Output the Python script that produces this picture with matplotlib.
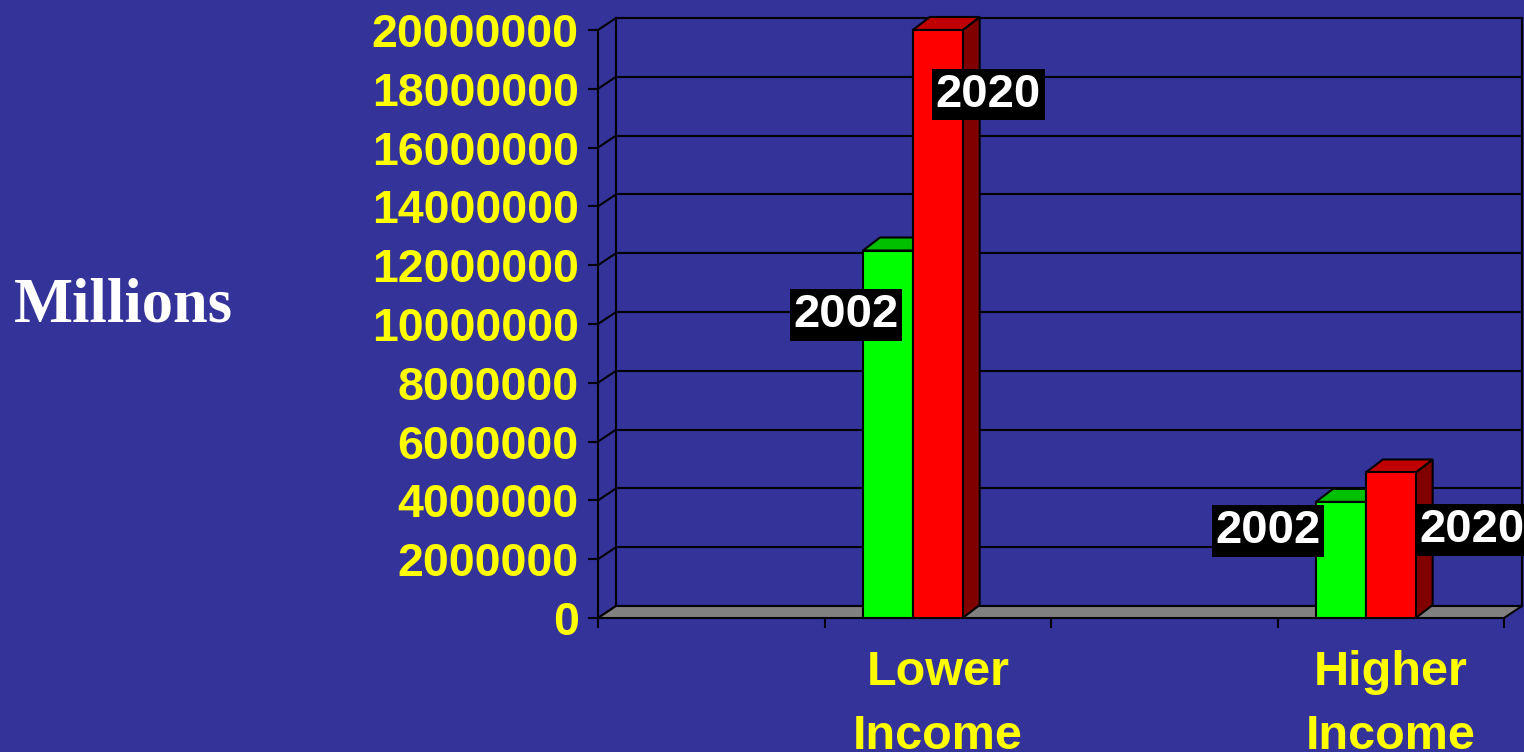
import matplotlib.pyplot as plt
from matplotlib.patches import Polygon

# data
categories = ['Lower\nIncome', 'Higher\nIncome']
years = ['2002', '2020']
values_2002 = [12500000, 3950000]
values_2020 = [20000000, 4950000]
y_ticks = [0, 2000000, 4000000, 6000000, 8000000, 10000000,
           12000000, 14000000, 16000000, 18000000, 20000000]

# layout: four category slots, the data sits in slots 1 and 3
slots = [1, 3]
label_xy = [[(0.595, 10.3e6), (1.224, 17.8e6)],
            [(2.458, 2.96e6), (3.359, 2.99e6)]]

bg = '#333399'
front_col = ['#00ff00', '#ff0000']
top_col = ['#00c000', '#c00000']
side_col = ['#008000', '#800000']

W, H = 1524, 752
fig = plt.figure(figsize=(W / 100, H / 100), dpi=100, facecolor=bg)
ax = fig.add_axes([598 / W, 134 / H, 906 / W, 588 / H])
ax.set_facecolor('none')
ax.set_xlim(-0.5, 3.5)
ax.set_ylim(0, 20000000)

# depth of the fake 3d box, in data units
px_x = 906 / 4.0          # pixels per slot
px_y = 588 / 20000000.0   # pixels per unit value
wdx, wdy = 18 / px_x, 12 / px_y
bdx, bdy = 17 / px_x, 13 / px_y

lw = 1.5
# back wall gridlines and the lines on the left wall
for t in y_ticks:
    ax.plot([-0.5 + wdx, 3.5 + wdx], [t + wdy, t + wdy], color='black',
            lw=lw, clip_on=False, zorder=1)
    ax.plot([-0.5, -0.5 + wdx], [t, t + wdy], color='black', lw=lw,
            clip_on=False, zorder=1)
for xe in [-0.5 + wdx, 3.5 + wdx]:
    ax.plot([xe, xe], [wdy, y_ticks[-1] + wdy], color='black', lw=lw,
            clip_on=False, zorder=1)

# floor
floor = Polygon([(-0.5, 0), (3.5, 0), (3.5 + wdx, wdy), (-0.5 + wdx, wdy)],
                closed=True, facecolor='#808080', edgecolor='black', lw=lw,
                clip_on=False, zorder=2)
ax.add_patch(floor)

# bars
bw = 0.22
series = [values_2002, values_2020]
for i, p in enumerate(slots):
    for k in range(2):
        x0 = p - 0.33 + k * bw
        h = series[k][i]
        side = Polygon([(x0 + bw, 0), (x0 + bw, h), (x0 + bw + bdx, h + bdy),
                        (x0 + bw + bdx, bdy)], closed=True,
                       facecolor=side_col[k], edgecolor='black', lw=lw,
                       clip_on=False, zorder=3)
        top = Polygon([(x0, h), (x0 + bw, h), (x0 + bw + bdx, h + bdy),
                       (x0 + bdx, h + bdy)], closed=True,
                      facecolor=top_col[k], edgecolor='black', lw=lw,
                      clip_on=False, zorder=3)
        ax.add_patch(side)
        ax.add_patch(top)
        ax.bar(x0, h, width=bw, align='edge', color=front_col[k],
               edgecolor='black', linewidth=lw, clip_on=False, zorder=3)
        lx, ly = label_xy[i][k]
        ax.text(lx, ly, years[k], ha='center', va='center', color='white',
                fontsize=34, fontweight='bold', family='Liberation Sans',
                bbox=dict(boxstyle='square,pad=0.08', fc='black', ec='none'),
                clip_on=False, zorder=6)

# axes
for s in ['top', 'right', 'bottom']:
    ax.spines[s].set_visible(False)
ax.spines['left'].set_linewidth(lw)
ax.set_yticks(y_ticks)
ax.set_yticklabels([str(t) for t in y_ticks])
ax.tick_params(axis='y', length=7, width=lw, pad=7, colors='black',
               labelcolor='yellow', labelsize=33.5)
ax.set_xticks(slots)
ax.set_xticklabels(categories, linespacing=1.55)
ax.set_xticks([-0.5, 0.5, 1.5, 2.5, 3.5], minor=True)
ax.tick_params(axis='x', which='major', length=0, pad=23,
               labelcolor='yellow', labelsize=35)
ax.tick_params(axis='x', which='minor', length=7, width=lw, color='black')
for lab in ax.get_xticklabels() + ax.get_yticklabels():
    lab.set_fontweight('bold')
    lab.set_family('Liberation Sans')

fig.text(14 / W, 1 - 322 / H, 'Millions', color='white', fontsize=45,
         fontweight='bold', family='Liberation Serif', ha='left', va='baseline')

fig.savefig('out.png', dpi=100, facecolor=bg)
